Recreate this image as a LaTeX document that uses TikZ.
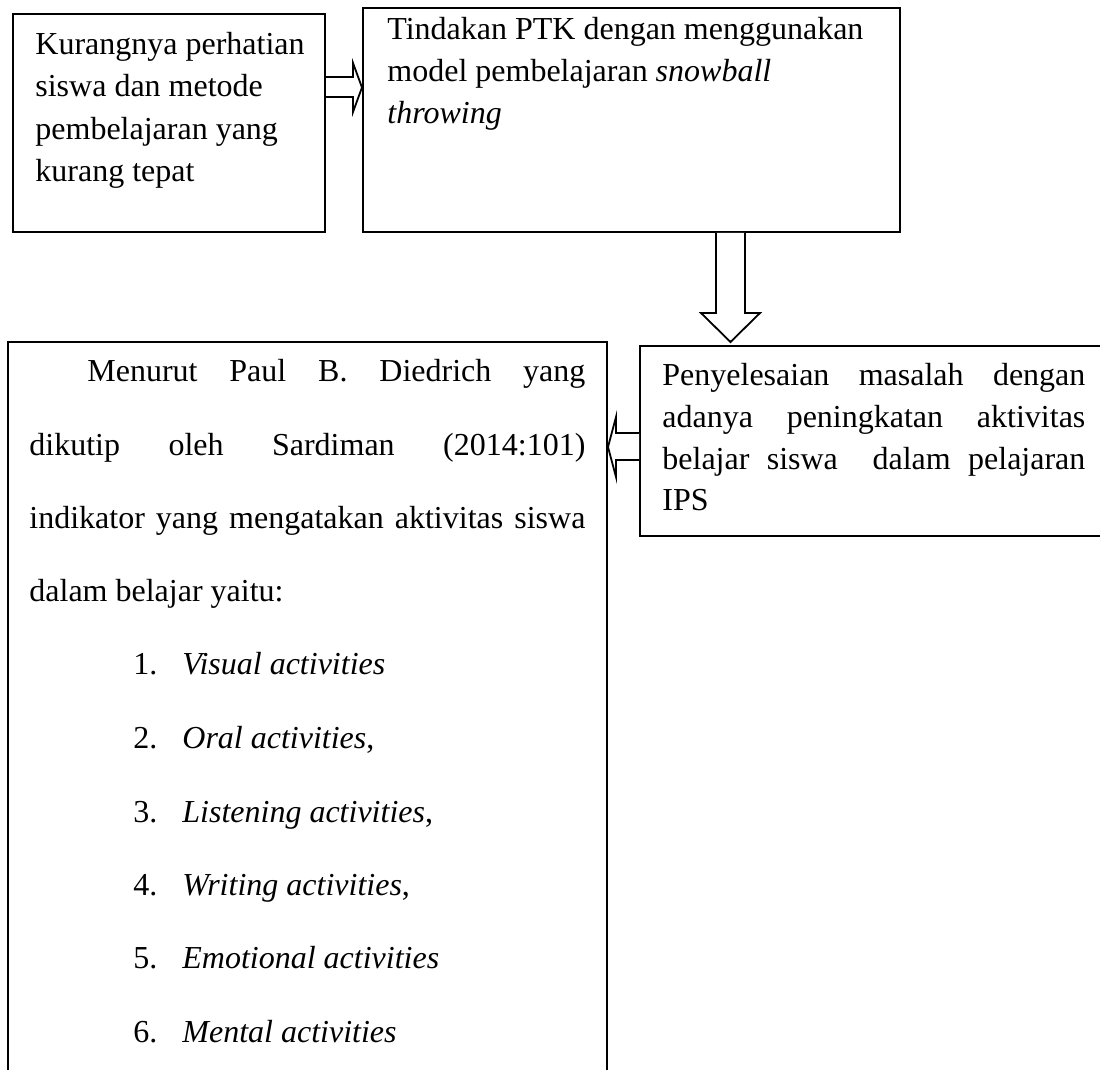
\documentclass[tikz,border=0pt]{standalone}
\usepackage{fontspec}
\setmainfont{Liberation Serif}
\usetikzlibrary{fit}
\newcommand\jgap{\hskip 0.25em plus 1fill\relax}
\begin{document}
\begin{tikzpicture}[x=0.5pt,y=-0.5pt,
  boxshape/.style={draw=black, line width=1pt, inner sep=0pt},
  txt/.style={inner sep=0pt, anchor=base west, font=\fontsize{16}{20}\selectfont},
  blk/.style={draw=black, line width=0.9pt, fill=white, line join=miter}]
\useasboundingbox (0,0) rectangle (1100,1070);
\clip (0,0) rectangle (1100,1070);
\fill[white] (0,0) rectangle (1100,1070);

% boxes
\node[boxshape, fit={(13,14) (325,232)}] (A) {};
\node[boxshape, fit={(363,8) (900,232)}] (B) {};
\node[boxshape, fit={(640,346) (1106,536)}] (C) {};
\node[boxshape, fit={(8,342) (607,1090)}] (D) {};

% block arrows
\draw[blk] (A.east |- 0,77) -- (353,77) -- (353,63) -- (B.west |- 0,87.5)
  -- (353,112) -- (353,97) -- (A.east |- 0,97);
\coordinate (bctip) at (730.5,342);
\draw[blk] (B.south -| 716,0) -- (716,313) -- (701,313) -- (bctip)
  -- (760,313) -- (745,313) -- (B.south -| 745,0);
\draw[blk] (C.west |- 0,433) -- (616,433) -- (616,417) -- (D.east |- 0,447)
  -- (616,477) -- (616,460) -- (C.west |- 0,460);

% box A text
\node[txt] (a1) at (35,54.5) {Kurangnya perhatian};
\node[txt] (a2) at (35,97) {siswa dan metode};
\node[txt] (a3) at (35,139.5) {pembelajaran yang};
\node[txt] (a4) at (35,182) {kurang tepat};

% box B text
\node[txt] (b1) at (387,40) {Tindakan PTK dengan menggunakan};
\node[txt] (b2) at (387,82) {model pembelajaran \textit{snowball}};
\node[txt] (b3) at (387,124) {\textit{throwing}};

% box C text
\node[txt] (c1) at (662,386) {\hbox to 211.5pt{Penyelesaian\jgap masalah\jgap dengan}};
\node[txt] (c2) at (662,427.5) {\hbox to 211.5pt{adanya\jgap peningkatan\jgap aktivitas}};
\node[txt] (c3) at (662,469) {\hbox to 211.5pt{belajar\jgap siswa\jgap\jgap dalam\jgap pelajaran}};
\node[txt] (c4) at (662,510.5) {IPS};

% box D text
\node[txt] (d1) at (87,382) {\hbox to 249pt{Menurut\jgap Paul\jgap B.\jgap Diedrich\jgap yang}};
\node[txt] (d2) at (29,455.3) {\hbox to 278pt{dikutip\jgap oleh\jgap Sardiman\jgap (2014:101)}};
\node[txt] (d3) at (29,528.6) {\hbox to 278pt{indikator\jgap yang\jgap mengatakan\jgap aktivitas\jgap siswa}};
\node[txt] (d4) at (29,602) {dalam belajar yaitu:};

\node[txt] (n1) at (133,675) {1.};
\node[txt] (i1) at (182,675) {\textit{Visual activities}};
\node[txt] (n2) at (133,748.5) {2.};
\node[txt] (i2) at (182,748.5) {\textit{Oral activities},};
\node[txt] (n3) at (133,822) {3.};
\node[txt] (i3) at (182,822) {\textit{Listening activities},};
\node[txt] (n4) at (133,895) {4.};
\node[txt] (i4) at (182,895) {\textit{Writing activities},};
\node[txt] (n5) at (133,968.6) {5.};
\node[txt] (i5) at (182,968.6) {\textit{Emotional activities}};
\node[txt] (n6) at (133,1042) {6.};
\node[txt] (i6) at (182,1042) {\textit{Mental activities}};
\end{tikzpicture}
\end{document}
